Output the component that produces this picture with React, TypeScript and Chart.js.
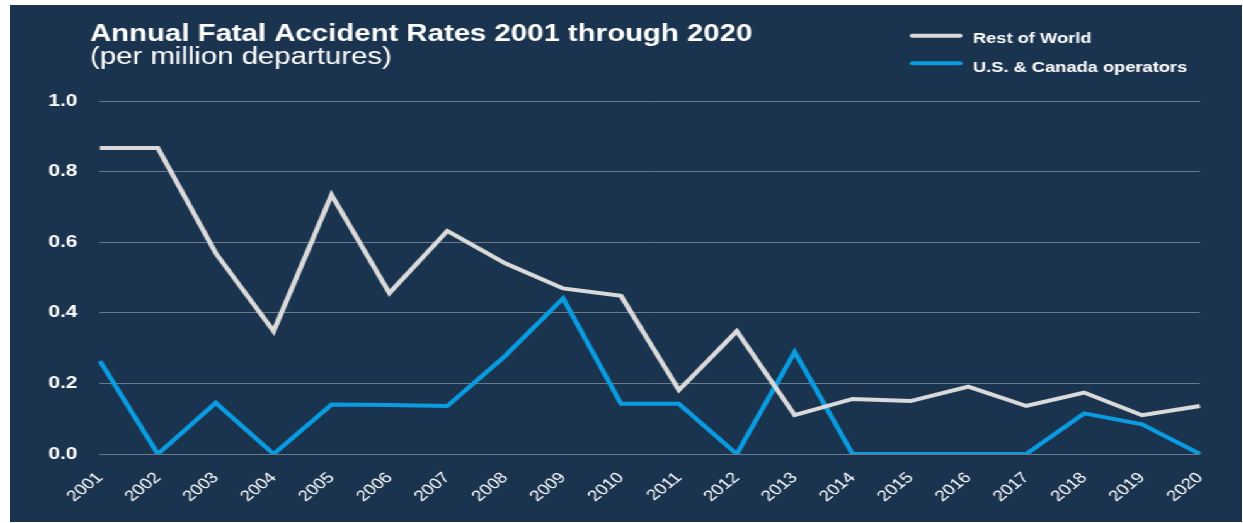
import React, { useEffect, useRef } from "react";
import { Chart, registerables } from "chart.js";

Chart.register(...registerables);

const years = ["2001","2002","2003","2004","2005","2006","2007","2008","2009","2010","2011","2012","2013","2014","2015","2016","2017","2018","2019","2020"];
const restOfWorld = [0.867,0.867,0.569,0.348,0.734,0.456,0.632,0.540,0.469,0.448,0.181,0.348,0.110,0.156,0.150,0.191,0.136,0.174,0.110,0.136];
const usCanada = [0.263,0,0.145,0,0.140,0.139,0.136,0.278,0.441,0.142,0.142,0,0.289,0,0,0,0,0.115,0.084,0];
const seriesLabels = ["Rest of World", "U.S. & Canada operators"];
const seriesColors = ["#dadada", "#0a9be0"];
const titleText = "Annual Fatal Accident Rates 2001 through 2020";
const subtitleText = "(per million departures)";

const STRETCH = 1.26;
const LOGICAL_W = 978;
const H = 517;
const FONT = "'Liberation Sans', Arial, Helvetica, sans-serif";

const headerPlugin = {
  id: "header",
  afterDraw(chart: any) {
    const ctx = chart.ctx;
    ctx.save();
    ctx.fillStyle = "#ffffff";
    ctx.textAlign = "left";
    ctx.textBaseline = "alphabetic";
    ctx.font = `bold 23.3px ${FONT}`;
    ctx.fillText(titleText, 63.5, 35.5);
    ctx.font = `23.3px ${FONT}`;
    ctx.fillText(subtitleText, 63.5, 59);

    const lineY = [30.7, 58.3];
    const textY = [38.3, 66.5];
    chart.data.datasets.forEach((ds: any, i: number) => {
      ctx.beginPath();
      ctx.lineCap = "round";
      ctx.lineWidth = 4;
      ctx.strokeStyle = ds.borderColor;
      ctx.moveTo(716, lineY[i]);
      ctx.lineTo(754, lineY[i]);
      ctx.stroke();
      ctx.font = `bold 14.5px ${FONT}`;
      ctx.fillStyle = "#ffffff";
      ctx.fillText(ds.label, 764.3, textY[i]);
    });
    ctx.restore();
  },
};

export default function App() {
  const ref = useRef<HTMLCanvasElement | null>(null);
  useEffect(() => {
    if (!ref.current) return;
    const chart = new Chart(ref.current, {
      type: "line",
      data: {
        labels: years,
        datasets: [
          {
            label: seriesLabels[0],
            data: restOfWorld,
            borderColor: seriesColors[0],
            backgroundColor: seriesColors[0],
            borderWidth: 4,
            pointRadius: 0,
            tension: 0,
            borderJoinStyle: "miter",
          },
          {
            label: seriesLabels[1],
            data: usCanada,
            borderColor: seriesColors[1],
            backgroundColor: seriesColors[1],
            borderWidth: 4,
            pointRadius: 0,
            tension: 0,
            borderJoinStyle: "miter",
          },
        ],
      },
      options: {
        animation: false,
        responsive: true,
        maintainAspectRatio: false,
        layout: { padding: { top: 96, right: 33.6, bottom: 0, left: 0 } },
        plugins: {
          legend: { display: false },
          title: { display: false },
          tooltip: { enabled: false },
        },
        scales: {
          x: {
            grid: { display: false, drawTicks: false },
            border: { display: false },
            ticks: {
              color: "#ffffff",
              font: { family: FONT, size: 15 },
              minRotation: 45,
              maxRotation: 45,
              autoSkip: false,
              padding: 15,
            },
            afterFit: (axis: any) => {
              axis.height = 68;
            },
          },
          y: {
            min: 0,
            max: 1,
            grid: { color: "rgba(160,170,182,0.6)", lineWidth: 1, drawTicks: false },
            border: { display: false },
            ticks: {
              stepSize: 0.2,
              color: "#ffffff",
              font: { family: FONT, size: 16.5, weight: "bold" },
              padding: 18,
              callback: (v: any) => Number(v).toFixed(1),
            },
            afterFit: (axis: any) => {
              axis.width = 71.4;
            },
          },
        },
      },
      plugins: [headerPlugin],
    });
    return () => chart.destroy();
  }, []);

  return (
    <div
      style={{
        position: "absolute",
        left: 10,
        top: 5,
        width: LOGICAL_W,
        height: H,
        background: "#1a344f",
        transform: `scaleX(${STRETCH})`,
        transformOrigin: "0 0",
      }}
    >
      <canvas ref={ref} />
    </div>
  );
}
